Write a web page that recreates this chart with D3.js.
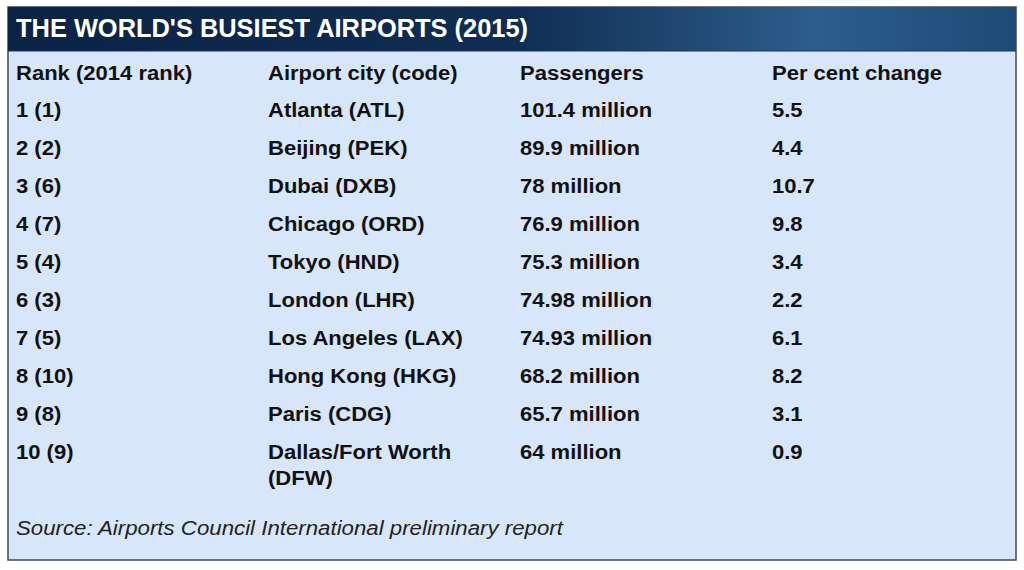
<!DOCTYPE html>
<html>
<head>
<meta charset="utf-8">
<script src="https://cdn.jsdelivr.net/npm/d3@7"></script>
<style>
  html, body { margin: 0; padding: 0; background: #ffffff; }
  svg { display: block; }
  text { font-family: "Liberation Sans", Arial, Helvetica, sans-serif; }
</style>
</head>
<body>
<svg id="chart" width="1024" height="570"></svg>
<script>
const title = "THE WORLD'S BUSIEST AIRPORTS (2015)";
const columns = ["Rank (2014 rank)", "Airport city (code)", "Passengers", "Per cent change"];
const ranks = ["1 (1)", "2 (2)", "3 (6)", "4 (7)", "5 (4)", "6 (3)", "7 (5)", "8 (10)", "9 (8)", "10 (9)"];
const airports = ["Atlanta (ATL)", "Beijing (PEK)", "Dubai (DXB)", "Chicago (ORD)", "Tokyo (HND)",
  "London (LHR)", "Los Angeles (LAX)", "Hong Kong (HKG)", "Paris (CDG)", "Dallas/Fort Worth\n(DFW)"];
const passengers = ["101.4 million", "89.9 million", "78 million", "76.9 million", "75.3 million",
  "74.98 million", "74.93 million", "68.2 million", "65.7 million", "64 million"];
const change = ["5.5", "4.4", "10.7", "9.8", "3.4", "2.2", "6.1", "8.2", "3.1", "0.9"];
const source = "Source: Airports Council International preliminary report";

const svg = d3.select("#chart");
const box = {x: 8, y: 7, w: 1008, h: 553, head: 44};
const sx = 1.075;

const defs = svg.append("defs");
const g = defs.append("linearGradient").attr("id", "hdr").attr("x1", "0").attr("x2", "1").attr("y1", "0").attr("y2", "0");
g.append("stop").attr("offset", "0").attr("stop-color", "#0a2346");
g.append("stop").attr("offset", "0.5").attr("stop-color", "#0f2d52");
g.append("stop").attr("offset", "0.8").attr("stop-color", "#2d5d8c");
g.append("stop").attr("offset", "1").attr("stop-color", "#1d4b78");
const rg2 = defs.append("radialGradient").attr("id", "glow").attr("cx", "0.5").attr("cy", "0").attr("r", "0.5");
rg2.append("stop").attr("offset", "0").attr("stop-color", "#7fa9d0").attr("stop-opacity", 0.55);
rg2.append("stop").attr("offset", "1").attr("stop-color", "#7fa9d0").attr("stop-opacity", 0);

// body
svg.append("rect").attr("x", box.x).attr("y", box.y).attr("width", box.w).attr("height", box.h)
  .attr("fill", "#d7e6fb").attr("stroke", "#3b4a5c").attr("stroke-width", 1.5);
// header
svg.append("rect").attr("x", box.x).attr("y", box.y).attr("width", box.w).attr("height", box.head)
  .attr("fill", "url(#hdr)");
svg.append("ellipse").attr("cx", 845).attr("cy", box.y).attr("rx", 130).attr("ry", 44)
  .attr("fill", "url(#glow)");
svg.append("line").attr("x1", box.x).attr("x2", box.x + box.w).attr("y1", box.y + box.head).attr("y2", box.y + box.head)
  .attr("stroke", "#1a3658").attr("stroke-width", 1);

svg.append("text").attr("x", 16).attr("y", 37).attr("fill", "#ffffff")
  .attr("font-size", 25).attr("font-weight", "bold").attr("textLength", 512).attr("lengthAdjust", "spacingAndGlyphs")
  .text(title);

const x = d3.scalePoint().domain(d3.range(4)).range([16, 772]);
const rowIdx = d3.range(ranks.length);
const y = d3.scalePoint().domain(rowIdx).range([117, 459]);

const fs = 20.5;
svg.append("g").selectAll("text").data(columns).join("text")
  .attr("transform", (d, i) => `translate(${x(i)},80) scale(${sx},1)`)
  .attr("font-size", fs).attr("font-weight", "bold").attr("fill", "#111")
  .text(d => d);

const rows = rowIdx.map(i => [ranks[i], airports[i], passengers[i], change[i]]);
const rg = svg.append("g").selectAll("g").data(rows).join("g")
  .attr("transform", (d, i) => `translate(0,${y(i)})`);
rg.selectAll("text").data(d => d).join("text")
  .attr("transform", (d, j) => `translate(${x(j)},0) scale(${sx},1)`)
  .attr("font-size", fs).attr("font-weight", "bold").attr("fill", "#111")
  .each(function(d) {
    const lines = d.split("\n");
    d3.select(this).selectAll("tspan").data(lines).join("tspan")
      .attr("x", 0).attr("dy", (l, k) => k === 0 ? 0 : 26)
      .text(l => l);
  });

svg.append("text").attr("transform", "translate(16,535) scale(1.06,1)")
  .attr("font-size", 21).attr("font-style", "italic").attr("fill", "#222")
  .text(source);
</script>
</body>
</html>
